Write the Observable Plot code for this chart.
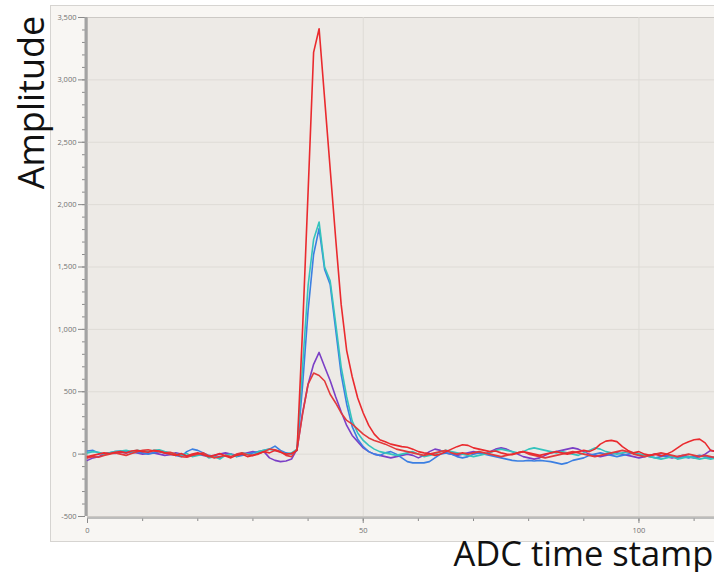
<!DOCTYPE html>
<html>
<head>
<meta charset="utf-8">
<script src="https://cdn.jsdelivr.net/npm/d3@7"></script>
<script src="https://cdn.jsdelivr.net/npm/@observablehq/plot@0.6"></script>
<style>
  html, body { margin: 0; padding: 0; background: #ffffff; overflow: hidden; }
  #chart { width: 714px; height: 572px; overflow: hidden; }
</style>
</head>
<body>
<div id="chart"></div>
<script>
// ADC time stamps (sample index)
const timeStamps = d3.range(0, 115);

// Amplitude traces
const redLarge = [
  -20,-10,0,10,5,15,20,10,25,30,20,15,30,25,10,0,-10,5,-15,0,10,-5,-20,-10,5,-15,-30,-10,0,-20,-10,5,20,10,30,15,0,5,
  30,1000,2100,3220,3410,2850,2290,1730,1200,830,
  620,450,330,230,160,115,100,80,70,60,
  55,40,20,10,5,-10,0,20,40,60,
  75,70,50,40,30,20,25,10,0,-5,
  10,20,10,0,-10,0,10,20,10,0,
  10,20,30,20,40,80,104,110,100,60,
  30,10,20,0,-10,0,-15,0,20,50,
  80,100,115,120,90,30,20
];
const redSmall = [
  -30,-20,-25,-10,0,10,0,-10,5,20,30,35,25,20,10,15,0,-20,-25,-10,0,10,-15,-30,-20,-10,-20,0,10,-5,-10,0,20,40,35,20,-10,-20,
  40,320,560,650,630,586,480,410,330,270,
  240,200,160,130,110,95,80,60,40,30,
  20,10,0,-10,0,10,20,30,10,0,
  10,0,10,20,10,0,-10,-20,-10,0,
  10,20,0,-10,-20,-30,-20,-10,0,10,
  20,10,0,-10,-20,-10,0,10,20,30,
  20,0,-10,-20,-10,0,10,0,-10,-20,
  -10,0,-10,-20,-10,-20,-30
];
const teal = [
  10,20,15,0,10,20,25,30,20,30,25,20,30,35,20,10,0,-10,5,-20,-10,0,-30,-20,-40,-10,0,-20,10,0,-10,20,30,40,30,20,0,10,
  40,700,1350,1720,1860,1500,1390,1050,700,460,
  265,170,110,70,40,20,10,0,-10,0,
  10,20,0,-20,-10,0,20,30,20,10,
  0,-10,-20,-10,0,10,30,40,30,20,
  10,20,40,50,40,30,20,10,20,10,
  0,-10,10,30,50,40,20,10,0,10,
  20,10,0,-10,-20,-30,-40,-30,-20,-40,
  -30,-20,-30,-40,-30,-40,-30
];
const blue = [
  25,30,10,0,10,20,25,20,10,15,10,0,10,20,10,0,-10,-20,20,40,30,10,-10,-20,-30,-10,0,-20,-10,0,10,20,30,40,64,30,10,0,
  30,550,1150,1600,1810,1480,1360,1000,640,400,
  220,120,60,20,0,-10,10,20,0,-30,
  -60,-70,-70,-70,-60,-30,0,10,0,-20,
  -30,-20,0,10,0,-10,-20,-30,-40,-50,
  -55,-55,-50,-55,-50,-55,-60,-70,-80,-70,
  -50,-40,-30,-10,0,10,0,-10,-20,-10,
  0,10,0,-10,-20,-30,-20,-10,-20,-30,
  -20,-30,-20,-10,-20,-30,-20
];
const purple = [
  -50,-30,-20,0,10,5,15,10,20,10,0,5,10,0,-10,-5,10,0,-20,-10,0,-10,-20,-10,0,10,0,-10,0,10,20,10,20,-30,-50,-60,-55,-40,
  40,330,560,720,815,700,590,460,340,230,
  150,100,50,20,0,-10,-20,-30,-20,-10,
  0,-10,-30,-10,20,40,30,10,0,-10,
  0,10,20,10,0,20,40,50,40,20,
  0,-20,-30,-40,-30,-10,10,20,30,40,
  50,40,20,0,-10,-20,-10,0,10,0,
  -10,-20,-30,-20,-10,0,-10,-20,-30,-20,
  -10,-20,-30,-20,0,30,20
];

const seriesNames  = ["purple", "blue", "teal", "redSmall", "redLarge"];
const seriesValues = [purple, blue, teal, redSmall, redLarge];
const seriesColors = ["#7b3fc6", "#3b7fe2", "#35c3bd", "#e23a3c", "#ea2a2e"];

const yMajorTicks = [-500, 0, 500, 1000, 1500, 2000, 2500, 3000, 3500];
const yMinorTicks = d3.range(-500, 3501, 100);
const xMajorTicks = [0, 50, 100];
const xMinorTicks = [0, 10, 20, 30, 40, 50, 60, 70, 80, 90, 100, 110];
const yLabel = "Amplitude";
const xLabel = "ADC time stamp";

const data = seriesNames.flatMap((name, k) =>
  seriesValues[k].map((v, i) => ({t: timeStamps[i], v, s: name}))
);

const plot = Plot.plot({
  width: 714,
  height: 572,
  marginLeft: 87,
  marginRight: 0,
  marginTop: 17,
  marginBottom: 56,
  style: {background: "transparent", fontFamily: "'Open Sans', sans-serif"},
  x: {domain: [0, 113.7], axis: null},
  y: {domain: [-500, 3500], axis: null},
  color: {domain: seriesNames, range: seriesColors},
  marks: [
    Plot.frame({fill: "#f8f6f3", stroke: "#d6d4d1", insetLeft: -37, insetTop: -12, insetBottom: -25, insetRight: -10}),
    Plot.frame({fill: "#edeae6", stroke: "#ccc9c5"}),
    Plot.gridY(yMajorTicks.slice(1, -1), {stroke: "#dedbd6", strokeOpacity: 1}),
    Plot.gridX([50, 100], {stroke: "#dedbd6", strokeOpacity: 1}),
    Plot.axisY(yMinorTicks, {tickSize: 3, text: null, label: null, stroke: "#8a8a8a", dx: -2}),
    Plot.axisY(yMajorTicks, {tickSize: 7, tickPadding: 2, dx: -2, label: null, stroke: "#8a8a8a", fill: "#707070",
      fontSize: 7.5, tickFormat: d => d.toLocaleString("en-US")}),
    Plot.axisX(xMinorTicks, {tickSize: 3, text: null, label: null, stroke: "#8a8a8a", dy: 2}),
    Plot.axisX(xMajorTicks, {tickSize: 5, tickPadding: 4, dy: 2, label: null, stroke: "#8a8a8a", fill: "#707070", fontSize: 7.5}),
    Plot.ruleY([-500], {stroke: "#a9a9a9", strokeWidth: 1.5, dy: 1.5}),
    Plot.ruleX([0], {stroke: "#a3a3a3", strokeWidth: 3, dx: -1.5}),
    Plot.lineY(data, {x: "t", y: "v", z: "s", stroke: "s", strokeWidth: 1.6}),
    Plot.text([yLabel], {frameAnchor: "top-left", dx: -44, dy: 85, rotate: -90,
      textAnchor: "middle", lineAnchor: "bottom", fontSize: 36, fill: "#111", fontFamily: "'Open Sans', sans-serif"}),
    Plot.text([xLabel], {frameAnchor: "bottom-left", dx: 366, dy: 49.5,
      textAnchor: "start", lineAnchor: "bottom", fontSize: 34.5, fill: "#111", fontFamily: "'Open Sans', sans-serif"})
  ]
});

document.getElementById("chart").append(plot);
</script>
</body>
</html>
